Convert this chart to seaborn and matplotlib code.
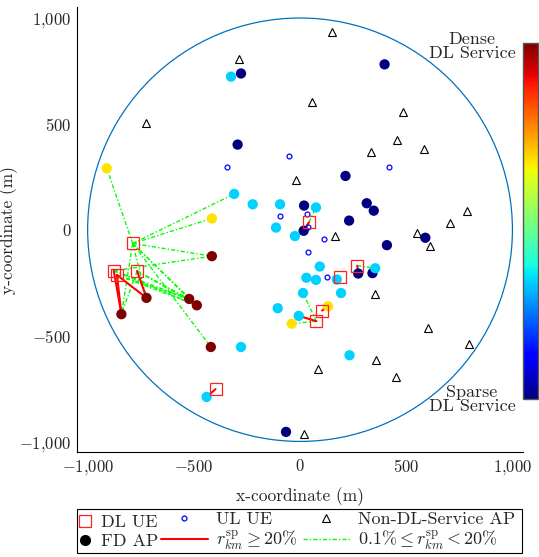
import numpy as np
import matplotlib
matplotlib.use("Agg")
import matplotlib.pyplot as plt
from matplotlib.lines import Line2D
from matplotlib.patches import Circle, Rectangle
import seaborn as sns

# cell boundary
cell_radius = 1000

# DL UEs (red squares)
dl_ue_x = [-788, -877, -862, -767, 42, 269, 186, 104, 77, -398]
dl_ue_y = [-65, -194, -214, -195, 35, -170, -224, -382, -432, -753]

# UL UEs (small blue circles)
ul_ue_x = [-346, -53, 418, -96, 33, 38, 115, 38, 126]
ul_ue_y = [297, 347, 295, 67, 72, 15, -43, -105, -224]

# APs without DL service (triangles)
non_dl_ap_x = [151, -286, 57, 484, -726, 456, 332, 582, -20, 786, 704,
               549, 165, 612, 355, 604, 794, 357, 86, 454, 19]
non_dl_ap_y = [935, 805, 601, 554, 504, 422, 367, 381, 237, 88, 33,
               -17, -30, -77, -304, -466, -541, -614, -656, -694, -965]

# FD APs, coloured by DL service density (0 sparse .. 1 dense)
fd_ap_x = [-278, 398, -294, 214, 19, 314, 347, 231, 17, 590, 409, 274, 341, -66,
           -325, -310, -223, -94, 75, -113, -24, 93, 354, 30, 75, 173, 14, 193,
           -105, -6, -278, 233, -440,
           -910, -415, 132, -39,
           -415, -723, -522, -486, -841, -420]
fd_ap_y = [738, 781, 402, 254, 114, 125, 90, 43, -5, -38, -73, -207, -205, -955,
           723, 169, 120, 120, 105, 10, -30, -174, -182, -227, -237, -235, -299, -299,
           -371, -407, -554, -593, -790,
           290, 53, -362, -444,
           -125, -322, -327, -357, -399, -554]
fd_ap_density = [0.0] * 14 + [0.33] * 19 + [0.67] * 4 + [1.0] * 6

# links (DL UE index, FD AP index)
strong_links = [(1, 41), (2, 41), (2, 38), (3, 38), (4, 8), (5, 11),
                (7, 35), (8, 29), (9, 32)]
weak_links = [(0, 33), (0, 15), (0, 34), (0, 37), (0, 39), (0, 40), (0, 42),
              (0, 41), (0, 38), (1, 37), (1, 39), (1, 40), (2, 39), (2, 40),
              (3, 39), (3, 40), (3, 41), (4, 18), (5, 22), (8, 26), (8, 36)]

ticks = [-1000, -500, 0, 500, 1000]
tick_labels = [r"$-1{,}000$", r"$-500$", r"$0$", r"$500$", r"$1{,}000$"]

sns.set_style("white")
plt.rcParams["font.family"] = ["cmr10", "DejaVu Serif"]
plt.rcParams["mathtext.fontset"] = "cm"
plt.rcParams["axes.formatter.use_mathtext"] = True

jet = matplotlib.colormaps["jet"]
green = "#00ff00"
dashdot = (0, (3, 1.5, 1, 1.5))

fig = plt.figure(figsize=(5.39, 5.57), dpi=100)
ax = fig.add_axes([0.1429, 0.1885, 0.8275, 0.7982])

ax.add_patch(Circle((0, 0), cell_radius, fill=False, color="#0072bd", lw=0.9, zorder=1))

for k, m in weak_links:
    ax.plot([dl_ue_x[k], fd_ap_x[m]], [dl_ue_y[k], fd_ap_y[m]], color=green, lw=1.0,
            linestyle=dashdot, zorder=2)
for k, m in strong_links:
    ax.plot([dl_ue_x[k], fd_ap_x[m]], [dl_ue_y[k], fd_ap_y[m]], color="red", lw=1.5,
            zorder=2)

sns.scatterplot(x=fd_ap_x, y=fd_ap_y, hue=fd_ap_density, palette=jet, hue_norm=(0, 1),
                s=55, linewidth=0, legend=False, ax=ax, zorder=3)
ax.plot(non_dl_ap_x, non_dl_ap_y, "^", ms=6, mfc="none", mec="black", mew=0.8, zorder=4)
ax.plot(ul_ue_x, ul_ue_y, "o", ms=3.5, mfc="none", mec="blue", mew=0.9, zorder=4)
ax.plot(dl_ue_x, dl_ue_y, "s", ms=8, mfc="none", mec="#ff2020", mew=0.9, zorder=5)

ax.set_xlim(-1050, 1050)
ax.set_ylim(-1050, 1050)
ax.set_xticks(ticks, tick_labels)
ax.set_yticks(ticks, tick_labels)
ax.tick_params(direction="in", length=3.5, width=0.6, labelsize=12, pad=4)
for side in ["top", "right"]:
    ax.spines[side].set_visible(False)
for side in ["left", "bottom"]:
    ax.spines[side].set_color("black")
    ax.spines[side].set_linewidth(0.8)
ax.set_xlabel("x-coordinate (m)", fontsize=12.5, labelpad=8)
ax.set_ylabel("y-coordinate (m)", fontsize=12.5, labelpad=1)

# colorbar
cax = fig.add_axes([0.9697, 0.2837, 0.0284, 0.639])
sm = matplotlib.cm.ScalarMappable(cmap=jet, norm=matplotlib.colors.Normalize(0, 1))
cb = fig.colorbar(sm, cax=cax)
cb.outline.set_edgecolor("#555555")
cb.outline.set_linewidth(1.0)
cb.set_ticks(np.linspace(0, 1, 16)[1:-1])
cax.tick_params(direction="in", length=3, width=0.8, color="#777777",
                left=True, right=True, labelleft=False, labelright=False)

fig.text(0.8757, 0.9174, "Dense\nDL Service", ha="center", va="center",
         fontsize=13, linespacing=0.9)
fig.text(0.8757, 0.2837, "Sparse\nDL Service", ha="center", va="center",
         fontsize=13, linespacing=0.9)

# legend: frame + first column (markers only) + two other columns
fig.patches.append(Rectangle((77 / 539, 4 / 557), 445 / 539, 44 / 557,
                             transform=fig.transFigure, fill=False, ec="black", lw=0.8))
legend_y = 1 - 532 / 557
h_dl = Line2D([], [], marker="s", ls="none", ms=8, mfc="none", mec="#ff2020", mew=0.9)
h_fd = Line2D([], [], marker="o", ls="none", ms=7, mfc="black", mec="black")
h_ul = Line2D([], [], marker="o", ls="none", ms=3.5, mfc="none", mec="blue", mew=0.9)
h_strong = Line2D([], [], color="red", lw=1.5)
h_non = Line2D([], [], marker="^", ls="none", ms=6, mfc="none", mec="black", mew=0.8)
h_weak = Line2D([], [], color=green, lw=1.0, linestyle=dashdot)

leg1 = fig.legend([h_dl, h_fd], ["DL UE", "FD AP"], loc="center left",
                  bbox_to_anchor=(79 / 539, legend_y), fontsize=13, frameon=False,
                  handlelength=0.7, handletextpad=0.5, labelspacing=0.2,
                  borderpad=0, borderaxespad=0)
leg2 = fig.legend([h_ul, h_strong, h_non, h_weak],
                  ["UL UE", r"$r^{\mathrm{sp}}_{km} \geq 20\%$",
                   "Non-DL-Service AP", r"$0.1\% \leq r^{\mathrm{sp}}_{km} < 20\%$"],
                  ncol=2, loc="center left", bbox_to_anchor=(161 / 539, legend_y),
                  fontsize=13, frameon=False, handlelength=2.6, handletextpad=0.45,
                  columnspacing=0.3, labelspacing=0.05, borderpad=0, borderaxespad=0)

fig.savefig("out.png", dpi=100)
